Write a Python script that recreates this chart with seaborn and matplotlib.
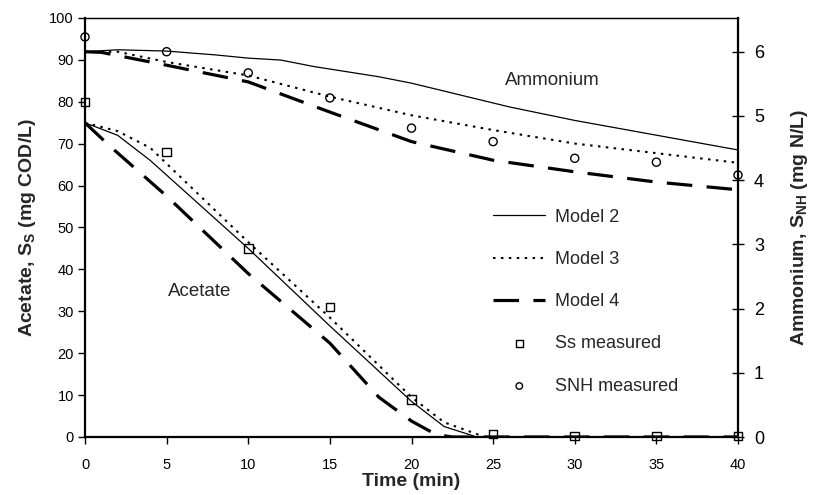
import numpy as np
import pandas as pd
import matplotlib
matplotlib.use("Agg")
import matplotlib.pyplot as plt
import seaborn as sns

# ---- data ----
t_ss_m2 = [0, 2, 4, 10, 15, 20, 22, 24, 40]
ss_m2 = [75, 72, 66, 45, 26.5, 8.5, 2.5, 0, 0]
t_ss_m3 = [0, 2, 4, 10, 15, 20, 22, 24.5, 40]
ss_m3 = [75, 73, 69, 46.5, 28.5, 9.5, 3.5, 0, 0]
t_ss_m4 = [0, 1.5, 5, 10, 15, 18, 20, 21.5, 22.5, 40]
ss_m4 = [75, 69.5, 57.5, 39, 22.4, 9.5, 3.8, 0.6, 0, 0]

t_nh_m2 = [0, 2, 5, 8, 10, 12, 14, 18, 20, 26, 30, 35, 40]
snh_m2 = [6.00, 6.03, 6.01, 5.95, 5.90, 5.87, 5.77, 5.61, 5.51, 5.14, 4.93, 4.70, 4.47]
t_nh_m3 = [0, 2, 5, 10, 15, 20, 25, 30, 35, 40]
snh_m3 = [6.00, 6.00, 5.84, 5.63, 5.30, 5.01, 4.78, 4.57, 4.42, 4.27]
t_nh_m4 = [0, 1, 5, 10, 15, 20, 25, 30, 35, 40]
snh_m4 = [6.00, 5.99, 5.79, 5.53, 5.06, 4.60, 4.31, 4.13, 3.97, 3.85]

t_meas = [0, 5, 10, 15, 20, 25, 30, 35, 40]
ss_meas = [80, 68, 45, 31, 9, 0.7, 0.2, 0.2, 0.2]
snh_meas = [6.23, 6.00, 5.67, 5.28, 4.81, 4.60, 4.34, 4.28, 4.08]

x_ticks = [0, 5, 10, 15, 20, 25, 30, 35, 40]
y_ticks_left = [0, 10, 20, 30, 40, 50, 60, 70, 80, 90, 100]
y_ticks_right = [0, 1, 2, 3, 4, 5, 6]

sns.set_theme(style="ticks")
plt.rcParams['font.family'] = ['Liberation Sans', 'DejaVu Sans']
plt.rcParams['mathtext.fontset'] = 'custom'
plt.rcParams['mathtext.rm'] = 'Liberation Sans'
plt.rcParams['mathtext.bf'] = 'Liberation Sans:bold'

fig = plt.figure(figsize=(8.13, 4.95), dpi=100)
ax = fig.add_axes([85/813, 1-437/495, (738-85)/813, (437-18)/495])
ax2 = ax.twinx()

solid = dict(color='black', lw=0.9, linestyle='-')
dotted = dict(color='black', lw=1.5, linestyle=(0, (1.2, 2.6)))
dashed = dict(color='black', lw=2.3, linestyle=(0, (8, 4.5)))

# acetate (left axis)
sns.lineplot(x=t_ss_m2, y=ss_m2, ax=ax, label='Model 2', **solid)
sns.lineplot(x=t_ss_m3, y=ss_m3, ax=ax, label='Model 3', **dotted)
sns.lineplot(x=t_ss_m4, y=ss_m4, ax=ax, label='Model 4', **dashed)
sns.scatterplot(x=t_meas, y=ss_meas, ax=ax, marker='s', s=38, facecolor='none',
                edgecolor='black', linewidth=1.0, clip_on=False, zorder=5,
                label='Ss measured')

# ammonium (right axis)
sns.lineplot(x=t_nh_m2, y=snh_m2, ax=ax2, **solid)
sns.lineplot(x=t_nh_m3, y=snh_m3, ax=ax2, **dotted)
sns.lineplot(x=t_nh_m4, y=snh_m4, ax=ax2, **dashed)
sns.scatterplot(x=t_meas, y=snh_meas, ax=ax2, marker='o', s=34, facecolor='none',
                edgecolor='black', linewidth=1.0, clip_on=False, zorder=5,
                label='SNH measured')

ax.set_xlim(0, 40)
ax.set_ylim(0, 100)
ax2.set_ylim(0, 6.525)
ax.set_xticks(x_ticks)
ax.set_yticks(y_ticks_left)
ax2.set_yticks(y_ticks_right)

ax.tick_params(axis='both', labelsize=10.5, direction='out', length=5, width=1,
               color='black', labelcolor='black', pad=3)
ax.tick_params(axis='x', pad=10)
ax2.tick_params(axis='y', labelsize=13, direction='inout', length=9, width=1,
                color='black', labelcolor='black', pad=7)

for sp in ['left', 'bottom']:
    ax.spines[sp].set_linewidth(1.6)
ax.spines['top'].set_linewidth(0.9)
ax.spines['right'].set_visible(False)
ax2.spines['right'].set_linewidth(1.6)
ax2.spines['top'].set_linewidth(0.9)
ax2.spines['left'].set_visible(False)
ax2.spines['bottom'].set_visible(False)
for a in (ax, ax2):
    for sp in a.spines.values():
        sp.set_color('black')

ax.set_xlabel('Time (min)', fontsize=14, fontweight='bold', labelpad=1)
ax.set_ylabel(r'Acetate, S$_\mathbf{S}$ (mg COD/L)', fontsize=14, fontweight='bold', labelpad=8)
ax2.set_ylabel(r'Ammonium, S$_\mathbf{NH}$ (mg N/L)', fontsize=14, fontweight='bold', labelpad=18)

ax.text(28.6, 85.2, 'Ammonium', fontsize=13.5, ha='center', va='center')
ax.text(7.0, 34.7, 'Acetate', fontsize=13.5, ha='center', va='center')

# legend
h1, l1 = ax.get_legend_handles_labels()
h2, l2 = ax2.get_legend_handles_labels()
if ax.get_legend():
    ax.get_legend().remove()
if ax2.get_legend():
    ax2.get_legend().remove()
leg = ax2.legend(h1 + h2, l1 + l2, loc='upper left', bbox_to_anchor=(0.625, 0.545),
                 frameon=False, fontsize=13, handlelength=2.9, handletextpad=0.55,
                 labelspacing=1.4, borderpad=0, borderaxespad=0, markerscale=0.8)

fig.savefig('out.png', dpi=100)
